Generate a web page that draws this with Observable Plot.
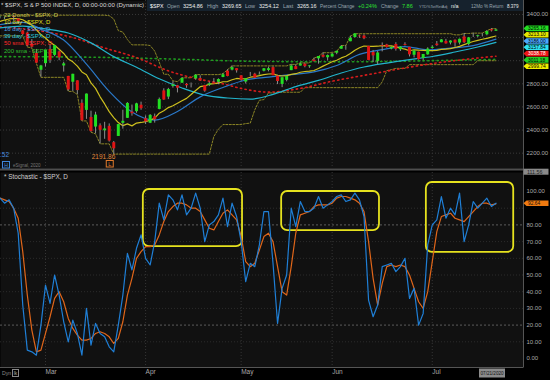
<!DOCTYPE html>
<html>
<head>
<meta charset="utf-8">
<script src="https://cdn.jsdelivr.net/npm/d3@7"></script>
<script src="https://cdn.jsdelivr.net/npm/@observablehq/plot@0.6"></script>
<style>
  html, body { margin: 0; padding: 0; background: #000; }
  #chart { position: relative; width: 550px; height: 380px; overflow: hidden; background: #000; }
  #chart svg { position: absolute; left: 0; }
</style>
</head>
<body>
<div id="chart"></div>
<script>
// ---------- DATA ----------
const dates = [
"2020-02-14","2020-02-18","2020-02-19","2020-02-20","2020-02-21","2020-02-24","2020-02-25","2020-02-26","2020-02-27","2020-02-28",
"2020-03-02","2020-03-03","2020-03-04","2020-03-05","2020-03-06","2020-03-09","2020-03-10","2020-03-11","2020-03-12","2020-03-13",
"2020-03-16","2020-03-17","2020-03-18","2020-03-19","2020-03-20","2020-03-23","2020-03-24","2020-03-25","2020-03-26","2020-03-27",
"2020-03-30","2020-03-31","2020-04-01","2020-04-02","2020-04-03","2020-04-06","2020-04-07","2020-04-08","2020-04-09","2020-04-13",
"2020-04-14","2020-04-15","2020-04-16","2020-04-17","2020-04-20","2020-04-21","2020-04-22","2020-04-23","2020-04-24","2020-04-27",
"2020-04-28","2020-04-29","2020-04-30","2020-05-01","2020-05-04","2020-05-05","2020-05-06","2020-05-07","2020-05-08","2020-05-11",
"2020-05-12","2020-05-13","2020-05-14","2020-05-15","2020-05-18","2020-05-19","2020-05-20","2020-05-21","2020-05-22","2020-05-26",
"2020-05-27","2020-05-28","2020-05-29","2020-06-01","2020-06-02","2020-06-03","2020-06-04","2020-06-05","2020-06-08","2020-06-09",
"2020-06-10","2020-06-11","2020-06-12","2020-06-15","2020-06-16","2020-06-17","2020-06-18","2020-06-19","2020-06-22","2020-06-23",
"2020-06-24","2020-06-25","2020-06-26","2020-06-29","2020-06-30","2020-07-01","2020-07-02","2020-07-06","2020-07-07","2020-07-08",
"2020-07-09","2020-07-10","2020-07-13","2020-07-14","2020-07-15","2020-07-16","2020-07-17","2020-07-20","2020-07-21","2020-07-22"];

const opens = [
3378.08,3369.04,3380.39,3380.45,3360.50,3257.61,3238.94,3139.90,3062.54,2916.90,
2974.28,3096.46,3045.75,3075.70,2954.20,2863.89,2813.48,2825.60,2630.86,2569.99,
2508.59,2425.66,2436.50,2393.48,2431.94,2290.71,2344.44,2457.77,2501.29,2555.87,
2558.98,2614.69,2498.08,2458.54,2514.92,2578.28,2738.65,2685.00,2776.99,2782.46,
2805.10,2795.64,2799.34,2842.43,2845.62,2784.81,2787.89,2810.42,2812.64,2854.65,
2909.96,2918.46,2930.91,2869.09,2815.01,2868.88,2883.14,2878.26,2908.83,2915.46,
2939.50,2865.86,2794.54,2829.95,2913.86,2948.59,2953.63,2969.95,2948.05,3004.08,
3015.65,3046.61,3025.17,3031.48,3064.78,3098.90,3111.56,3163.84,3199.92,3213.32,
3213.42,3123.53,3071.04,2993.76,3131.00,3136.13,3101.64,3140.29,3094.42,3138.70,
3114.40,3046.60,3073.20,3018.59,3050.20,3105.92,3143.64,3155.29,3166.44,3153.07,
3176.17,3152.47,3205.08,3141.11,3225.98,3208.36,3224.21,3224.29,3268.52,3254.86];

const highs = [
3385.09,3375.01,3393.52,3389.15,3360.76,3259.81,3246.99,3182.51,3097.07,2959.72,
3090.96,3136.72,3130.97,3083.04,2985.93,2863.89,2882.59,2825.60,2660.95,2711.33,
2562.98,2553.93,2453.57,2466.97,2453.01,2300.73,2449.71,2571.42,2637.01,2615.91,
2631.80,2641.39,2522.75,2533.22,2538.18,2676.85,2756.89,2760.75,2818.57,2782.46,
2851.85,2801.88,2806.51,2879.22,2868.98,2785.54,2815.10,2844.90,2842.71,2887.72,
2921.15,2954.86,2930.91,2869.09,2844.24,2898.23,2891.11,2901.92,2932.16,2944.25,
2945.82,2874.14,2852.80,2865.01,2968.09,2964.21,2980.29,2978.50,2956.76,3021.72,
3036.25,3068.67,3049.17,3062.18,3081.07,3130.94,3128.91,3211.72,3233.13,3222.71,
3223.27,3123.53,3088.42,3079.76,3153.45,3141.16,3120.00,3155.53,3120.92,3154.90,
3115.01,3086.25,3073.73,3053.89,3111.51,3128.44,3165.81,3182.59,3184.15,3171.80,
3179.78,3186.82,3235.32,3200.95,3238.28,3220.39,3233.52,3258.61,3277.29,3269.65];

const lows = [
3360.52,3355.61,3378.83,3341.02,3328.45,3214.65,3118.77,3108.99,2977.39,2855.84,
2945.19,2976.63,3034.38,2999.83,2901.54,2734.43,2734.00,2707.22,2478.86,2492.37,
2380.94,2367.04,2280.52,2319.78,2295.56,2191.86,2344.44,2407.53,2500.72,2520.02,
2545.28,2571.15,2447.49,2455.79,2459.96,2574.57,2657.67,2663.30,2762.36,2721.17,
2805.10,2761.54,2764.32,2830.88,2820.43,2727.10,2775.95,2794.26,2791.76,2852.89,
2860.71,2912.16,2892.47,2821.61,2797.85,2863.55,2847.65,2876.48,2902.88,2903.44,
2869.59,2793.15,2766.64,2816.78,2913.86,2922.35,2953.63,2938.57,2933.59,2988.17,
2969.75,3023.40,2998.61,3031.48,3051.64,3098.90,3090.41,3163.84,3196.00,3193.11,
3181.49,2999.49,2984.47,2965.66,3076.06,3108.03,3093.51,3083.11,3079.39,3127.12,
3032.13,3024.01,3004.63,2999.74,3047.83,3101.17,3124.52,3155.29,3142.93,3136.53,
3115.70,3136.22,3149.43,3127.66,3200.76,3198.59,3205.65,3215.16,3247.77,3254.12];

const closes = [
3380.16,3370.29,3386.15,3373.23,3337.75,3225.89,3128.21,3116.39,2978.76,2954.22,
3090.23,3003.37,3130.12,3023.94,2972.37,2746.56,2882.23,2741.38,2480.64,2711.02,
2386.13,2529.19,2398.10,2409.39,2304.92,2237.40,2447.33,2475.56,2630.07,2541.47,
2626.65,2584.59,2470.50,2526.90,2488.65,2663.68,2659.41,2749.98,2789.82,2761.63,
2846.06,2783.36,2799.55,2874.56,2823.16,2736.56,2799.31,2797.80,2836.74,2878.48,
2863.39,2939.51,2912.43,2830.71,2842.74,2868.44,2848.42,2881.19,2929.80,2930.32,
2870.12,2820.00,2852.50,2863.70,2953.91,2922.94,2971.61,2948.51,2955.45,2991.77,
3036.13,3029.73,3044.31,3055.73,3080.82,3122.87,3112.35,3193.93,3232.39,3207.18,
3190.14,3002.10,3041.31,3066.59,3124.74,3113.49,3115.34,3097.74,3117.86,3131.29,
3050.33,3083.76,3009.05,3053.24,3100.29,3115.86,3130.01,3179.72,3145.32,3169.94,
3152.05,3185.04,3155.22,3197.52,3226.56,3215.57,3224.73,3251.84,3257.30,3265.16];

// 10 day average (one value per session)
const avg10 = [
3339.8,3352.0,3360.8,3364.7,3363.9,3353.7,3331.3,3307.1,3267.1,3225.1,
3196.1,3159.4,3133.8,3098.9,3062.4,3014.4,2989.8,2952.3,2902.5,2878.2,
2807.8,2760.4,2687.2,2625.7,2559.0,2508.0,2464.6,2438.0,2452.9,2436.0,
2460.0,2465.5,2472.8,2484.5,2502.9,2545.5,2566.7,2594.2,2610.2,2632.2,
2654.1,2674.0,2706.9,2741.7,2775.1,2782.4,2796.4,2801.2,2805.9,2817.6,
2819.3,2834.9,2846.2,2841.8,2843.8,2857.0,2861.9,2870.2,2879.5,2884.7,
2885.4,2873.4,2867.4,2870.7,2881.8,2887.3,2899.6,2906.3,2908.9,2915.1,
2931.7,2952.6,2971.8,2991.0,3003.7,3023.7,3037.8,3062.3,3090.0,3111.5,
3126.9,3124.2,3123.9,3125.0,3129.4,3128.4,3128.7,3119.1,3107.6,3100.1,
3086.1,3094.2,3091.0,3089.7,3087.2,3087.5,3088.9,3097.1,3099.9,3103.8,
3113.9,3124.1,3138.7,3153.1,3165.7,3175.7,3185.2,3192.4,3203.6,3213.1];

// 16 day and 39 day averages: [session index, value]
const avg16 = [[0,3312],[5,3332],[9,3274],[14,3178],[19,2970],[24,2735],[29,2556],[34,2486],[39,2560],[44,2687],[49,2768],[54,2833],[59,2857],[64,2880],[69,2903],[74,2958],[79,3054],[84,3096],[89,3122],[94,3094],[99,3109],[104,3130],[109,3186]];
const avg39 = [[0,3283],[5,3298],[10,3275],[15,3239],[20,3154],[25,3035],[30,2943],[35,2843],[40,2764],[45,2702],[50,2677],[55,2668],[60,2709],[65,2776],[70,2829],[75,2893],[80,2945],[85,2979],[90,3009],[95,3036],[100,3075],[105,3118],[109,3157.84]];
// 50 sma and 200 sma (dotted)
const sma50 = [[0,3292],[8,3262],[16,3200],[23,3110],[30,3027],[37,2912],[43,2846],[49,2800],[53,2760],[59,2728],[66,2760],[73,2822],[81,2880],[88,2930],[95,2975],[102,3010],[109,3038.78]];
const sma200 = [[0,3035],[20,3030],[40,3012],[55,2995],[75,2990],[95,3000],[109,3011.18]];
// 22 day Donchian channel: [session index, value]
const donchUpper = [[0,3393.52],[23,3393.52],[24,3389.15],[25,3360.76],[26,3259.81],[27,3246.99],[28,3182.51],[29,3136.72],[32,3136.72],[33,3130.97],[34,3083.04],[35,2985.93],[36,2882.59],[37,2882.59],[38,2825.60],[39,2818.57],[40,2851.85],[42,2851.85],[43,2879.22],[48,2879.22],[49,2887.72],[50,2921.15],[51,2954.86],[63,2954.86],[64,2968.09],[65,2968.09],[66,2980.29],[68,2980.29],[69,3021.72],[70,3036.25],[71,3068.67],[73,3068.67],[74,3081.07],[75,3130.94],[76,3130.94],[77,3211.72],[78,3233.13],[99,3233.13],[100,3223.27],[101,3223.27],[102,3235.32],[103,3235.32],[104,3238.28],[106,3238.28],[107,3258.61],[108,3277.29],[109,3277.29]];
const donchLower = [[0,3214.64],[5,3214.64],[6,3118.77],[7,3108.99],[8,2977.39],[9,2855.84],[14,2855.84],[15,2734.43],[16,2734.00],[17,2707.22],[18,2478.86],[19,2478.86],[20,2380.94],[21,2367.04],[22,2280.52],[24,2280.52],[25,2191.86],[46,2191.86],[47,2344.44],[48,2407.53],[49,2447.49],[53,2447.49],[54,2455.79],[55,2459.96],[56,2574.57],[57,2657.67],[58,2663.30],[59,2721.17],[60,2721.17],[61,2727.10],[66,2727.10],[67,2766.64],[83,2766.64],[84,2816.78],[85,2913.86],[86,2922.35],[87,2933.59],[89,2933.59],[90,2965.66],[104,2965.66],[105,2999.74],[109,2999.74]];

// Stochastic %K (blue) and %D (orange), one per session
const stochK = [
96,93,95,90,75,32,5,4,2,20,
44,33,50,38,22,10,23,15,2,30,
8,21,15,13,7,4,20,38,63,53,
66,74,60,56,70,93,83,98,95,89,
98,86,90,99,90,70,80,82,86,96,
79,93,85,70,46,57,55,68,88,88,
57,21,42,50,90,79,94,88,88,90,
97,90,92,94,97,98,94,95,99,95,
85,35,25,32,55,56,57,52,55,60,
36,42,20,27,68,80,83,97,84,90,
86,99,70,80,94,90,93,96,91,93];
const stochD = [
96,95,94,90,84,64,38,17,4,5,
15,25,36,40,34,24,18,14,11,11,
12,15,16,15,13,9,12,22,38,48,
60,64,67,67,68,74,82,88,91,93,
93,92,90,90,88,83,78,77,82,87,
89,86,83,73,58,55,57,65,73,75,
70,55,40,38,55,75,86,87,88,91,
92,92,92,93,96,97,97,96,95,93,
88,70,48,32,45,55,56,55,56,55,
50,42,34,30,40,58,76,85,86,87,
84,83,82,85,88,91,93,93,92,92.64];

// Highlight boxes on the stochastic: session range and value range
const boxes = [
  {from: 31.5, to: 53.3, lo: 67, hi: 101.2},
  {from: 61.9, to: 83.4, lo: 76.6, hi: 100},
  {from: 93.7, to: 112.9, lo: 63.5, hi: 105.4}
];

const priceTicks = [2200, 2400, 2600, 2800, 3000, 3200, 3400];
const stochTicks = [0, 10, 20, 30, 40, 50, 60, 70, 80, 90, 100];
const stochMax = 111.56;
const title = "* $SPX, S & P 500 INDEX, D, 00:00-00:00 (Dynamic)";
const legend = [
  {text: "22 Donch - $SPX, D", color: "#c9c24a"},
  {text: "10 day - $SPX, D", color: "#e6e020"},
  {text: "16 day - $SPX, D", color: "#4f9fe0"},
  {text: "39 day - $SPX, D", color: "#2cc8dc"},
  {text: "50 sma - $SPX, D", color: "#ff2a2a"},
  {text: "200 sma - $SPX, D", color: "#2fbf2f"}
];
const twelveMoReturn = "8.379";
const dateStamp = "07/21/2020";
const highLabelVisible = ".52";

// ---------- BUILD ----------
const FONT = "'Liberation Sans', Arial, sans-serif";
const last = closes.length - 1;
const candles = dates.map((d, i) => ({i, open: opens[i], high: highs[i], low: lows[i], close: closes[i]}));
const series = arr => arr.map((v, i) => ({i, v}));
const pairs = arr => arr.map(([i, v]) => ({i, v}));
const monthIdx = dates.map((d, i) => i).filter(i => i > 0 && dates[i].slice(5, 7) !== dates[i - 1].slice(5, 7));
const monthName = i => d3.utcFormat("%b")(new Date(dates[i]));
const xDomain = [0.11, 115.05];
const priceDomain = [2067.3, 3520.5];
const baseStyle = {background: "transparent", color: "#a9a9a9", fontFamily: FONT, fontSize: "6px", overflow: "visible"};

// value tags on the price axis (computed first so the axis labels they cover are left out)
const tagDefs = [
  {v: closes[last], bg: "#22dd22", fg: "#000"},
  {v: avg10[last], bg: "#e6e600", fg: "#000"},
  {v: avg16[avg16.length - 1][1], bg: "#4aa8ff", fg: "#000"},
  {v: avg39[avg39.length - 1][1], bg: "#2ee0f0", fg: "#000"},
  {v: sma50[sma50.length - 1][1], bg: "#ee1616", fg: "#fff"},
  {v: sma200[sma200.length - 1][1], bg: "#22cc22", fg: "#000"},
  {v: donchLower[donchLower.length - 1][1], bg: "#eeee00", fg: "#000"}
];
const tagLo = d3.min(tagDefs, t => t.v) - 40, tagHi = d3.max(tagDefs, t => t.v) + 40;
const labelTicks = priceTicks.filter(t => t < tagLo || t > tagHi);

const price = Plot.plot({
  width: 550, height: 170,
  marginTop: 0, marginBottom: 2, marginLeft: 0, marginRight: 27,
  style: baseStyle,
  x: {domain: xDomain, axis: null},
  y: {domain: priceDomain, axis: null},
  marks: [
    Plot.frame({fill: "#111111", stroke: "none"}),
    Plot.ruleY(priceTicks, {stroke: "#3a3a3a", strokeDasharray: "1,2"}),
    Plot.ruleX(monthIdx, {stroke: "#353535", strokeDasharray: "1,2"}),
    Plot.line(pairs(donchUpper), {x: "i", y: "v", stroke: "#8c8626", strokeWidth: 1, strokeDasharray: "2,1.5"}),
    Plot.line(pairs(donchLower), {x: "i", y: "v", stroke: "#8c8626", strokeWidth: 1, strokeDasharray: "2,1.5"}),
    Plot.line(pairs(sma200), {x: "i", y: "v", stroke: "#1f9a1f", strokeWidth: 1.6, strokeDasharray: "1.3,3.4", curve: "monotone-x"}),
    Plot.line(pairs(sma50), {x: "i", y: "v", stroke: "#d61c1c", strokeWidth: 1.6, strokeDasharray: "1.3,3.4", curve: "monotone-x"}),
    Plot.line(pairs(avg39), {x: "i", y: "v", stroke: "#22b4cc", strokeWidth: 1.2, curve: "monotone-x"}),
    Plot.line(pairs(avg16), {x: "i", y: "v", stroke: "#2a78c8", strokeWidth: 1.2, curve: "monotone-x"}),
    Plot.line(series(avg10), {x: "i", y: "v", stroke: "#cdbf1e", strokeWidth: 1.2}),
    Plot.ruleX(candles, {x: "i", y1: "low", y2: "high", stroke: "#8e8e8e", strokeWidth: 1}),
    Plot.ruleX(candles.filter(c => c.close >= c.open), {x: "i", y1: "open", y2: "close", stroke: "#22e022", strokeWidth: 3}),
    Plot.ruleX(candles.filter(c => c.close < c.open), {x: "i", y1: "open", y2: "close", stroke: "#e01414", strokeWidth: 3}),
    Plot.text(labelTicks, {y: d => d, frameAnchor: "right", dx: 3, textAnchor: "start", text: d => d.toFixed(2), fill: "#a9a9a9", fontSize: 6})
  ]
});

const stoch = Plot.plot({
  width: 550, height: 210,
  marginTop: 2, marginBottom: 13, marginLeft: 0, marginRight: 27,
  style: baseStyle,
  x: {domain: xDomain, axis: null},
  y: {domain: [-5.39, stochMax - 0.18], axis: null},
  marks: [
    Plot.frame({fill: "#111111", stroke: "none"}),
    Plot.ruleY(stochTicks.filter(t => t > 0 && t < 100 && t !== 20 && t !== 80), {stroke: "#2c2c2c", strokeDasharray: "1,2"}),
    Plot.ruleY([20, 80], {stroke: "#5c5c5c", strokeDasharray: "2,2"}),
    Plot.ruleX(monthIdx, {stroke: "#353535", strokeDasharray: "1,2"}),
    Plot.rect(boxes, {x1: "from", x2: "to", y1: "lo", y2: "hi", rx: 6, fill: "none", stroke: "#e6e21e", strokeWidth: 1.8}),
    Plot.line(series(stochD), {x: "i", y: "v", stroke: "#e0661a", strokeWidth: 1.2}),
    Plot.line(series(stochK), {x: "i", y: "v", stroke: "#1f7fd6", strokeWidth: 1.2}),
    Plot.text(stochTicks.filter(t => t !== 90), {y: d => d, frameAnchor: "right", dx: 3, textAnchor: "start", text: d => d.toFixed(2), fill: "#a9a9a9", fontSize: 6}),
    Plot.text(monthIdx, {x: d => d, frameAnchor: "bottom", dy: 6, textAnchor: "start", text: monthName, fill: "#a9a9a9", fontSize: 6.5})
  ]
});

const chart = document.getElementById("chart");
price.style.top = "0px";
stoch.style.top = "170px";
chart.append(price);
chart.append(stoch);

const px = i => price.scale("x").apply(i);
const py = v => price.scale("y").apply(v);
const sy = v => stoch.scale("y").apply(v) + 170;

const ov = d3.select(chart).append("svg")
  .attr("width", 550).attr("height", 380).style("top", "0px")
  .attr("font-family", FONT);

// shrink a text's font size until it fits a maximum width
function fit(sel, maxW) {
  const n = sel.node();
  const fs = +sel.attr("font-size");
  const w = n.getComputedTextLength();
  if (w > maxW) sel.attr("font-size", (fs * maxW / w).toFixed(2));
  return sel;
}

// borders / separator
ov.append("rect").attr("x", 0).attr("y", 168.5).attr("width", 523).attr("height", 2).attr("fill", "#4e4e4e");
ov.append("line").attr("x1", 523.5).attr("x2", 523.5).attr("y1", 0).attr("y2", 367).attr("stroke", "#555");
ov.append("line").attr("x1", 0).attr("x2", 523.5).attr("y1", 367.5).attr("y2", 367.5).attr("stroke", "#555");

// header quote bar
ov.append("rect").attr("x", 147).attr("y", 0).attr("width", 376).attr("height", 11).attr("fill", "#16222d");
const chg = closes[last] - closes[last - 1];
const pct = chg / closes[last - 1] * 100;
const LBL = "#9aa6b0", VAL = "#ececec", UP = "#2ee02e";
const hdr = [
  ["$SPX", 150, "#ffffff"], ["Open", 167, LBL], [opens[last].toFixed(2), 183, VAL],
  ["High", 207, LBL], [highs[last].toFixed(2), 222, VAL],
  ["Low", 245, LBL], [lows[last].toFixed(2), 259, VAL],
  ["Last", 283, LBL], [closes[last].toFixed(2), 297, VAL],
  ["Percent Change", 320, LBL], [(pct >= 0 ? "+" : "") + pct.toFixed(2) + "%", 358, UP],
  ["Change", 381, LBL], [chg.toFixed(2), 402, UP],
  ["YTD%TotRetAdj", 419, LBL], ["n/a", 451, VAL],
  ["12Mo % Return", 471, LBL], [twelveMoReturn, 507, VAL]
];
hdr.forEach(([t, x, c], k) => {
  const next = k < hdr.length - 1 ? hdr[k + 1][1] : 522;
  fit(ov.append("text").attr("x", x).attr("y", 7.5).attr("font-size", 5.5).attr("fill", c).text(t), next - x - 3.5);
});

// legend
fit(ov.append("text").attr("x", 1).attr("y", 7.4).attr("font-size", 6.2).attr("fill", "#d8d8d8").text(title), 143);
legend.forEach((l, k) => ov.append("text").attr("x", 4).attr("y", 16.6 + k * 7.2).attr("font-size", 6).attr("fill", l.color).text(l.text));

// high / low markers
const lowIdx = d3.minIndex(lows);
ov.append("text").attr("x", 0).attr("y", 157).attr("font-size", 6.5).attr("fill", "#4a8ee0").text(highLabelVisible);
ov.append("rect").attr("x", 2.5).attr("y", 161.5).attr("width", 7).attr("height", 6.5).attr("fill", "none").attr("stroke", "#3f86d8");
ov.append("text").attr("x", 6).attr("y", 167).attr("text-anchor", "middle").attr("font-size", 5.2).attr("fill", "#3f86d8").text("H");
ov.append("text").attr("x", px(lowIdx) + 2).attr("y", py(lows[lowIdx]) + 5).attr("text-anchor", "end").attr("font-size", 6.5).attr("fill", "#e08a3c").text(lows[lowIdx].toFixed(2));
ov.append("rect").attr("x", px(lowIdx) - 7).attr("y", 160.5).attr("width", 7).attr("height", 6.5).attr("fill", "none").attr("stroke", "#e07a2c");
ov.append("text").attr("x", px(lowIdx) - 3.5).attr("y", 166).attr("text-anchor", "middle").attr("font-size", 5.2).attr("fill", "#e07a2c").text("L");
ov.append("text").attr("x", 13).attr("y", 167).attr("font-size", 4.5).attr("fill", "#777").text("eSignal, 2020");

// stochastic title
ov.append("text").attr("x", 4).attr("y", 179).attr("font-size", 6.4).attr("fill", "#cfcfcf").text("* Stochastic - $SPX, D");

// right-side value tags
const TAG_H = 5.6;
function tag(y, text, bg, fg) {
  const g = ov.append("g").attr("transform", `translate(523.5,${y})`);
  const h = TAG_H / 2;
  g.append("path").attr("d", `M0,0 L3,${-h} H25 V${h} H3 Z`).attr("fill", bg);
  fit(g.append("text").attr("x", 4.5).attr("y", 1.7).attr("font-size", 4.9).attr("fill", fg).text(text), 19.5);
}
const tags = tagDefs.map(t => ({...t, y: py(t.v)})).sort((a, b) => a.y - b.y);
// dodge: merge colliding groups, each group centred on the mean of its targets
const SP = 6.3;
let gs = tags.map(t => ({items: [t]}));
const centre = g => d3.mean(g.items, t => t.y) + 1.5;
const gTop = g => centre(g) - (g.items.length - 1) / 2 * SP;
const gBot = g => centre(g) + (g.items.length - 1) / 2 * SP;
let merged = true;
while (merged) {
  merged = false;
  for (let k = 0; k < gs.length - 1; k++) {
    if (gTop(gs[k + 1]) - gBot(gs[k]) < SP) {
      gs.splice(k, 2, {items: gs[k].items.concat(gs[k + 1].items)});
      merged = true; break;
    }
  }
}
gs.forEach(g => {
  const c = centre(g);
  g.items.forEach((t, k) => tag(c + (k - (g.items.length - 1) / 2) * SP, t.v.toFixed(2), t.bg, t.fg));
});

// stochastic tags
ov.append("rect").attr("x", 523.5).attr("y", sy(stochMax) - 3).attr("width", 25).attr("height", 6).attr("fill", "#8a8a8a");
fit(ov.append("text").attr("x", 527).attr("y", sy(stochMax) + 1.9).attr("font-size", 5.3).attr("fill", "#222").text(stochMax.toFixed(2)), 20);
tag(sy(stochD[last]), stochD[last].toFixed(2), "#f07a10", "#111");

// bottom strip
ov.append("text").attr("x", 2).attr("y", 375).attr("font-size", 5.2).attr("fill", "#888").text("Dyn");
ov.append("rect").attr("x", 12.5).attr("y", 369.5).attr("width", 6).attr("height", 7).attr("fill", "none").attr("stroke", "#888");
ov.append("text").attr("x", 15.5).attr("y", 375).attr("text-anchor", "middle").attr("font-size", 4.8).attr("fill", "#aaa").text("lk");
ov.append("rect").attr("x", 479).attr("y", 368.5).attr("width", 26).attr("height", 9).attr("fill", "#8c8c8c");
fit(ov.append("text").attr("x", 480.5).attr("y", 375.2).attr("font-size", 5.2).attr("fill", "#111").text(dateStamp), 23);
</script>
</body>
</html>
